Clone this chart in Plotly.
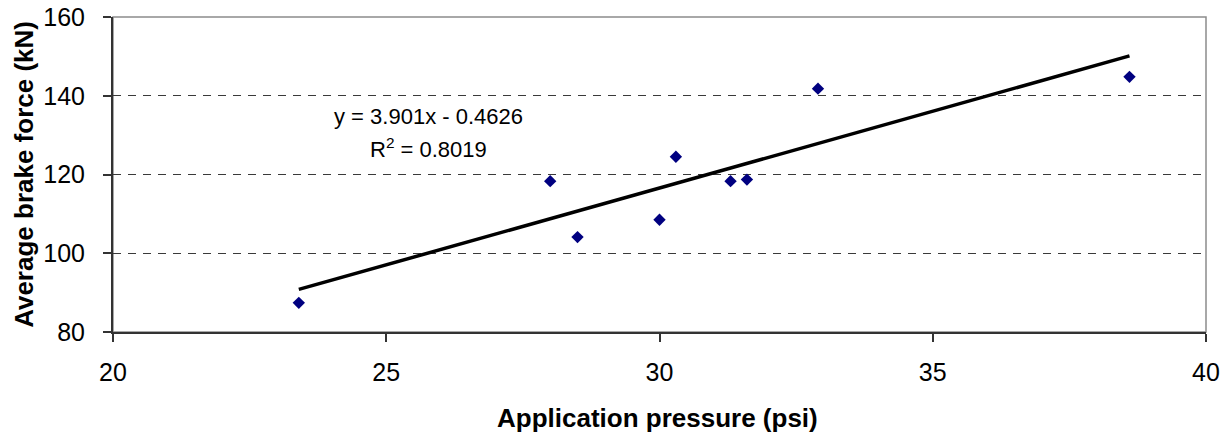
import plotly.graph_objects as go

# Data
pressure = [23.4, 28.0, 28.5, 30.0, 30.3, 31.3, 31.6, 32.9, 38.6]
brake_force = [87.4, 118.3, 104.1, 108.5, 124.5, 118.3, 118.7, 141.8, 144.8]
trend_slope = 3.901
trend_intercept = -0.4626
r_squared = 0.8019
x_ticks = [20, 25, 30, 35, 40]
y_ticks = [80, 100, 120, 140, 160]

FONT = "Liberation Sans, Arial, sans-serif"

trend_x = [min(pressure), max(pressure)]
trend_y = [trend_slope * v + trend_intercept for v in trend_x]

fig = go.Figure()
fig.add_trace(go.Scatter(
    x=trend_x, y=trend_y, mode="lines",
    line=dict(color="black", width=3.5), hoverinfo="skip", showlegend=False,
))
fig.add_trace(go.Scatter(
    x=pressure, y=brake_force, mode="markers",
    marker=dict(symbol="diamond", size=9.5, color="#000080", line=dict(width=0)),
    showlegend=False,
))

# Plot frame (gray top/right)
fig.add_shape(type="rect", xref="paper", yref="paper", x0=0, y0=0, x1=1, y1=1,
              line=dict(color="#8c8c8c", width=1.5), layer="below")

fig.update_layout(
    width=1227, height=432,
    margin=dict(l=113, r=21, t=17, b=100, autoexpand=False),
    paper_bgcolor="white", plot_bgcolor="white",
    font=dict(family=FONT, color="black", size=25),
    xaxis=dict(
        range=[20, 40], tickvals=x_ticks, ticks="outside", ticklen=8, tickwidth=1.5,
        tickcolor="#333333", showgrid=False, zeroline=False, automargin=False,
        showline=True, linecolor="#333333", linewidth=2,
        tickfont=dict(size=25, family=FONT, color="black"), ticklabelstandoff=9,
    ),
    yaxis=dict(
        range=[80, 160], tickvals=y_ticks, ticks="outside", ticklen=8, tickwidth=1.5,
        tickcolor="#333333", showgrid=True, gridcolor="#3a3a3a", gridwidth=1.2,
        griddash="8px,7px", zeroline=False, automargin=False,
        showline=True, linecolor="#333333", linewidth=2,
        tickfont=dict(size=25, family=FONT, color="black"), ticklabelstandoff=13,
    ),
    annotations=[
        dict(text="<b>Application pressure (psi)</b>", xref="paper", yref="paper",
             x=0.4985, y=-0.2745, xanchor="center", yanchor="middle", showarrow=False,
             font=dict(size=26, family=FONT, color="black")),
        dict(text="<b>Average brake force (kN)</b>", xref="paper", yref="paper",
             x=-0.082, y=0.5, xanchor="center", yanchor="middle", textangle=-90,
             showarrow=False, font=dict(size=26, family=FONT, color="black")),
        dict(text=f"y = {trend_slope}x - {abs(trend_intercept)}", x=25.77, y=134.7,
             xanchor="center", yanchor="middle", showarrow=False,
             font=dict(size=22, family=FONT, color="black")),
        dict(text=f"R<sup>2</sup> = {r_squared}", x=25.77, y=126.7,
             xanchor="center", yanchor="middle", showarrow=False,
             font=dict(size=22, family=FONT, color="black")),
    ],
)

fig.write_html(
    "out.html",
    config={"displayModeBar": False},
    post_script="document.body.style.margin='0';document.body.style.overflow='hidden';",
)
